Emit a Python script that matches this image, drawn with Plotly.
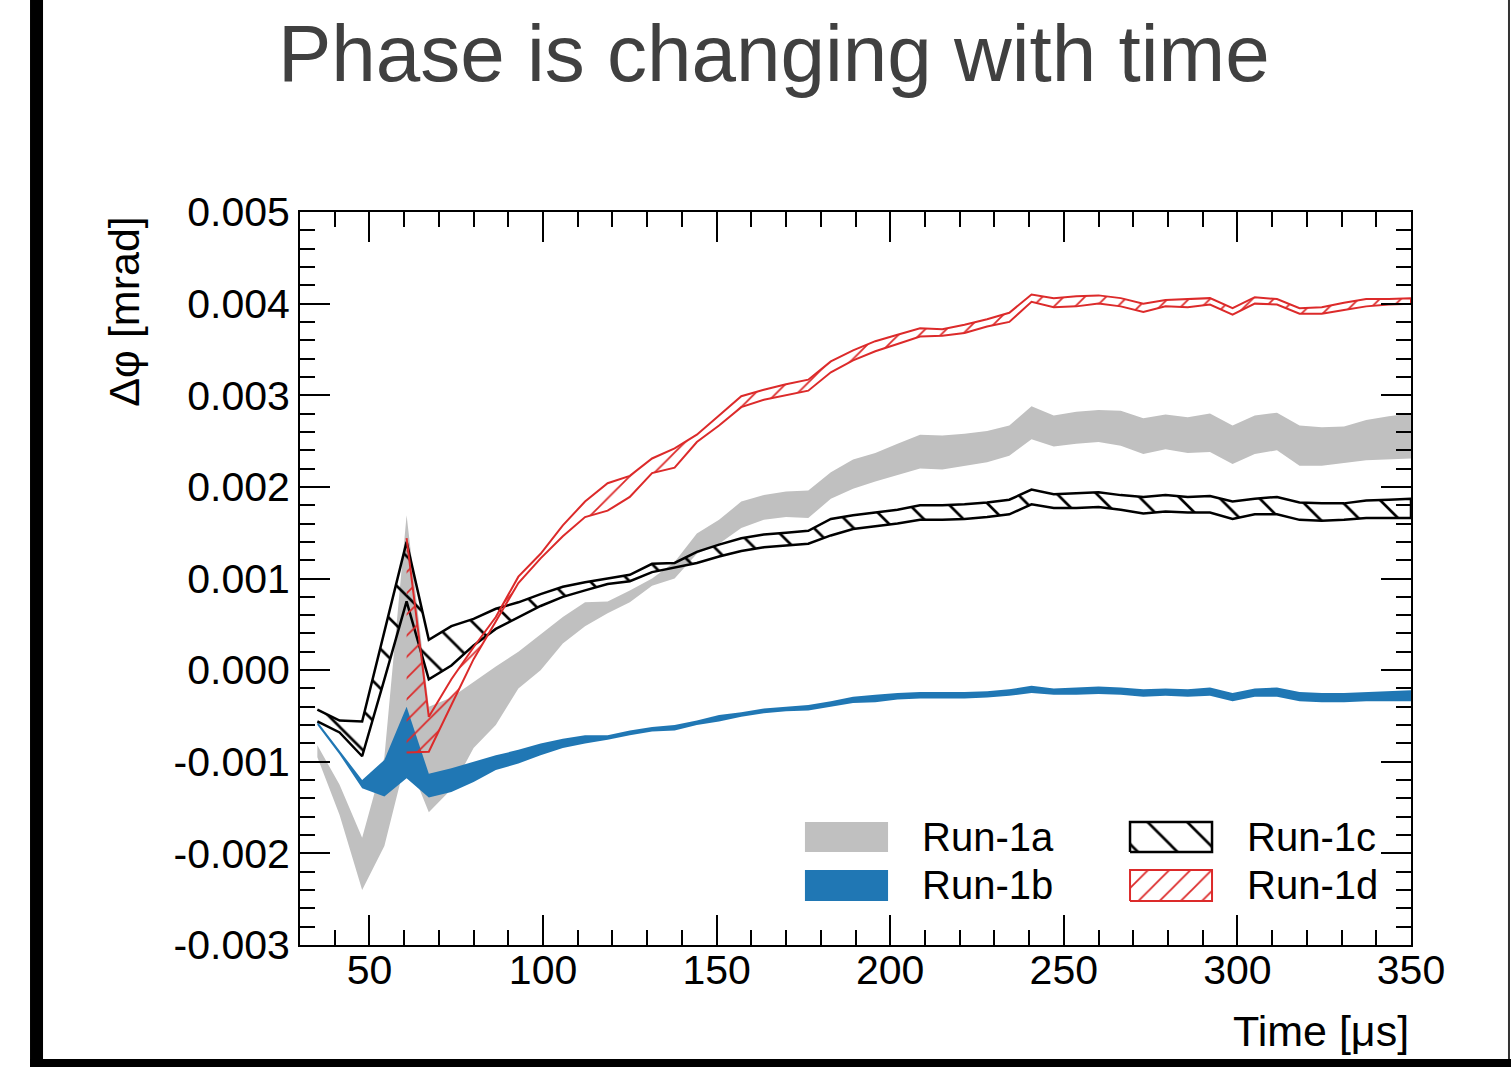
import plotly.graph_objects as go

# Time bins [us]
time_us = [35.0, 41.4, 47.9, 54.3, 60.7, 67.1, 73.6, 80.0, 86.4, 92.9,
           99.3, 105.7, 112.1, 118.6, 125.0, 131.4, 137.9, 144.3, 150.7, 157.1,
           163.6, 170.0, 176.4, 182.9, 189.3, 195.7, 202.1, 208.6, 215.0, 221.4,
           227.9, 234.3, 240.7, 247.1, 253.6, 260.0, 266.4, 272.9, 279.3, 285.7,
           292.1, 298.6, 305.0, 311.4, 317.9, 324.3, 330.7, 337.1, 343.6, 350.0]

# Phase-shift bands, in units of 1e-3 mrad (upper / lower edge)
run1a_hi = [-0.82, -1.25, -1.83, -0.95, 1.69, -0.40, -0.30, -0.13, 0.04, 0.20,
            0.39, 0.58, 0.74, 0.75, 0.87, 1.00, 1.18, 1.49, 1.64, 1.84,
            1.91, 1.95, 1.96, 2.16, 2.30, 2.37, 2.47, 2.57, 2.56, 2.58,
            2.61, 2.67, 2.88, 2.78, 2.82, 2.84, 2.83, 2.75, 2.79, 2.76,
            2.80, 2.67, 2.78, 2.81, 2.67, 2.65, 2.66, 2.73, 2.77, 2.80]
run1a_lo = [-0.95, -1.58, -2.40, -1.92, -0.95, -1.55, -1.30, -0.85, -0.60, -0.20,
            0.00, 0.29, 0.48, 0.62, 0.74, 0.92, 1.00, 1.27, 1.38, 1.55,
            1.64, 1.67, 1.66, 1.87, 1.98, 2.06, 2.13, 2.20, 2.19, 2.23,
            2.27, 2.34, 2.52, 2.44, 2.47, 2.49, 2.45, 2.36, 2.41, 2.37,
            2.38, 2.25, 2.36, 2.40, 2.23, 2.23, 2.26, 2.29, 2.30, 2.31]

run1b_hi = [-0.56, -0.88, -1.20, -0.98, -0.40, -1.13, -1.07, -1.00, -0.93, -0.87,
            -0.80, -0.75, -0.71, -0.71, -0.66, -0.62, -0.60, -0.55, -0.49, -0.46,
            -0.42, -0.40, -0.38, -0.34, -0.29, -0.27, -0.25, -0.24, -0.24, -0.24,
            -0.23, -0.21, -0.17, -0.20, -0.19, -0.18, -0.19, -0.21, -0.20, -0.21,
            -0.19, -0.25, -0.20, -0.19, -0.24, -0.25, -0.25, -0.24, -0.23, -0.22]
run1b_lo = [-0.60, -0.92, -1.29, -1.38, -1.18, -1.39, -1.33, -1.22, -1.09, -1.02,
            -0.93, -0.85, -0.80, -0.76, -0.71, -0.67, -0.66, -0.60, -0.56, -0.51,
            -0.47, -0.45, -0.44, -0.40, -0.36, -0.35, -0.32, -0.31, -0.31, -0.31,
            -0.30, -0.28, -0.25, -0.27, -0.27, -0.26, -0.27, -0.29, -0.28, -0.29,
            -0.28, -0.34, -0.29, -0.29, -0.34, -0.35, -0.35, -0.34, -0.34, -0.34]

run1c_hi = [-0.43, -0.55, -0.56, 0.42, 1.40, 0.33, 0.48, 0.56, 0.67, 0.74,
            0.83, 0.91, 0.96, 1.00, 1.04, 1.16, 1.17, 1.29, 1.37, 1.44,
            1.48, 1.50, 1.52, 1.65, 1.69, 1.72, 1.75, 1.80, 1.80, 1.81,
            1.83, 1.86, 1.97, 1.92, 1.93, 1.94, 1.91, 1.89, 1.91, 1.89,
            1.90, 1.84, 1.87, 1.89, 1.83, 1.82, 1.82, 1.85, 1.86, 1.87]
run1c_lo = [-0.56, -0.68, -0.94, -0.10, 0.75, -0.10, 0.05, 0.27, 0.45, 0.58,
            0.70, 0.80, 0.87, 0.94, 0.97, 1.07, 1.12, 1.17, 1.24, 1.30,
            1.34, 1.36, 1.38, 1.47, 1.54, 1.57, 1.60, 1.64, 1.64, 1.65,
            1.67, 1.70, 1.81, 1.77, 1.77, 1.78, 1.75, 1.71, 1.73, 1.72,
            1.72, 1.65, 1.70, 1.70, 1.64, 1.63, 1.64, 1.66, 1.66, 1.66]

run1d_hi = [None, None, None, None, 1.44, -0.51, -0.10, 0.25, 0.58, 1.02,
            1.27, 1.58, 1.84, 2.04, 2.12, 2.31, 2.42, 2.57, 2.78, 2.99,
            3.06, 3.12, 3.17, 3.37, 3.49, 3.59, 3.66, 3.73, 3.72, 3.77,
            3.83, 3.90, 4.10, 4.06, 4.08, 4.09, 4.06, 4.00, 4.04, 4.05,
            4.06, 3.95, 4.07, 4.05, 3.95, 3.96, 4.01, 4.05, 4.05, 4.06]
run1d_lo = [None, None, None, None, -0.90, -0.89, -0.38, 0.12, 0.53, 0.95,
            1.22, 1.46, 1.67, 1.74, 1.89, 2.15, 2.21, 2.49, 2.67, 2.87,
            2.95, 3.00, 3.05, 3.25, 3.38, 3.48, 3.56, 3.64, 3.65, 3.68,
            3.75, 3.80, 4.02, 3.96, 3.97, 4.00, 3.97, 3.91, 3.97, 3.96,
            3.99, 3.88, 4.00, 3.99, 3.89, 3.89, 3.93, 3.97, 3.99, 4.00]

UNIT = 1e-3

y_ticks = [-0.003, -0.002, -0.001, 0.0, 0.001, 0.002, 0.003, 0.004, 0.005]
y_ticktext = ["-0.003", "-0.002", "-0.001", "0.000", "0.001", "0.002", "0.003", "0.004", "0.005"]

series_names = ["Run-1a", "Run-1b", "Run-1c", "Run-1d"]

GREY = "#c0c0c0"
BLUE = "#2077b4"
RED = "#dc2a2a"
FONT = "Liberation Sans"

# hatch styles: (shape, size, solidity)
HATCH_C = ("\\", 28, 0.095)
HATCH_D = ("/", 15, 0.12)


def band_polygon(t, lo, hi):
    pts = [(x, l, h) for x, l, h in zip(t, lo, hi) if l is not None and h is not None]
    xs = [p[0] for p in pts]
    los = [p[1] * UNIT for p in pts]
    his = [p[2] * UNIT for p in pts]
    return xs + xs[::-1], his + los[::-1]


def pattern(hatch, col):
    shape, size, sol = hatch
    return dict(shape=shape, size=size, solidity=sol, fgcolor=col, fgopacity=1,
                bgcolor="rgba(0,0,0,0)", fillmode="overlay")


fig = go.Figure()

# solid bands
for lo, hi, col, name in [(run1a_lo, run1a_hi, GREY, series_names[0]),
                          (run1b_lo, run1b_hi, BLUE, series_names[1])]:
    px, py = band_polygon(time_us, lo, hi)
    fig.add_trace(go.Scatter(x=px, y=py, mode="lines", fill="toself",
                             fillcolor=col, line=dict(width=0, color=col),
                             name=name, showlegend=False, hoverinfo="skip"))

# hatched, outlined bands
for lo, hi, col, hatch, lw, name in [
        (run1c_lo, run1c_hi, "black", HATCH_C, 2.5, series_names[2]),
        (run1d_lo, run1d_hi, RED, HATCH_D, 2.0, series_names[3])]:
    px, py = band_polygon(time_us, lo, hi)
    fig.add_trace(go.Scatter(x=px, y=py, mode="lines", fill="toself",
                             fillcolor="rgba(0,0,0,0)",
                             fillpattern=pattern(hatch, col),
                             line=dict(width=lw, color=col),
                             name=name, showlegend=False, hoverinfo="skip"))

# legend swatches on an overlay axis spanning the plot area (0..1)
swatches = [
    (0.4545, 0.5293, 0.1269, 0.1678, GREY, None, None, 0),
    (0.4545, 0.5293, 0.0600, 0.1023, BLUE, None, None, 0),
    (0.7471, 0.8209, 0.1269, 0.1678, "rgba(0,0,0,0)", "black", HATCH_C, 2.5),
    (0.7471, 0.8209, 0.0600, 0.1023, "rgba(0,0,0,0)", RED, HATCH_D, 2.0),
]
for x0, x1, y0, y1, fc, lc, hatch, lw in swatches:
    kw = {}
    if hatch is not None:
        kw["fillpattern"] = pattern(hatch, lc)
    fig.add_trace(go.Scatter(x=[x0, x1, x1, x0, x0], y=[y0, y0, y1, y1, y0],
                             mode="lines", fill="toself", fillcolor=fc,
                             line=dict(width=lw, color=lc if lc else fc),
                             xaxis="x2", yaxis="y2", showlegend=False,
                             hoverinfo="skip", **kw))

legend_text = [(0.558, 0.1473, series_names[0]), (0.558, 0.0819, series_names[1]),
               (0.8506, 0.1473, series_names[2]), (0.8506, 0.0819, series_names[3])]

annotations = []
for x, y, txt in legend_text:
    annotations.append(dict(x=x, y=y, xref="paper", yref="paper", text=txt,
                            showarrow=False, xanchor="left", yanchor="middle",
                            font=dict(family=FONT, size=40, color="black")))

# axis titles placed at the ends of the axes
annotations.append(dict(x=1.0, y=-0.117, xref="paper", yref="paper", text="Time [μs]",
                        showarrow=False, xanchor="right", yanchor="middle",
                        font=dict(family=FONT, size=43, color="black")))
annotations.append(dict(x=-0.158, y=0.997, xref="paper", yref="paper", text="Δφ [mrad]",
                        textangle=-90, showarrow=False, xanchor="center", yanchor="top",
                        font=dict(family=FONT, size=43, color="black")))
# title
annotations.append(dict(x=0.427, y=1.216, xref="paper", yref="paper",
                        text="Phase is changing with time", showarrow=False,
                        xanchor="center", yanchor="middle",
                        font=dict(family=FONT, size=80, color="#404040")))

# slide frame: heavy black strips on left and bottom, thin line on the right
shapes = [
    dict(type="rect", xref="paper", yref="paper", x0=-0.2430, x1=-0.2313,
         y0=-0.1665, y1=1.2892, line=dict(width=0), fillcolor="black", layer="above"),
    dict(type="rect", xref="paper", yref="paper", x0=-0.2430, x1=1.0900,
         y0=-0.1665, y1=-0.1555, line=dict(width=0), fillcolor="black", layer="above"),
    dict(type="line", xref="paper", yref="paper", x0=1.0882, x1=1.0882,
         y0=-0.1555, y1=1.2892, line=dict(width=2, color="#333333"), layer="above"),
]

axis_common = dict(showgrid=False, zeroline=False, showline=True, linecolor="black",
                   linewidth=2, mirror="allticks", ticks="inside", ticklen=30,
                   tickwidth=2, tickcolor="black",
                   tickfont=dict(family=FONT, size=41, color="black"))

fig.update_layout(
    width=1511, height=1067,
    margin=dict(l=300, r=100, t=212, b=122),
    paper_bgcolor="white", plot_bgcolor="white",
    showlegend=False,
    xaxis=dict(range=[30, 350], tick0=0, dtick=50, ticklabelstandoff=-12,
               minor=dict(dtick=10, ticklen=15, tickwidth=2, tickcolor="black", ticks="inside"),
               **axis_common),
    yaxis=dict(range=[-0.003, 0.005], tickmode="array", tickvals=y_ticks, ticktext=y_ticktext,
               minor=dict(tickmode="linear", tick0=0, dtick=0.0002, ticklen=15, tickwidth=2,
                          tickcolor="black", ticks="inside"),
               **axis_common),
    xaxis2=dict(overlaying="x", range=[0, 1], visible=False),
    yaxis2=dict(overlaying="y", range=[0, 1], visible=False),
    annotations=annotations,
    shapes=shapes,
)

fig.write_html("out.html")
